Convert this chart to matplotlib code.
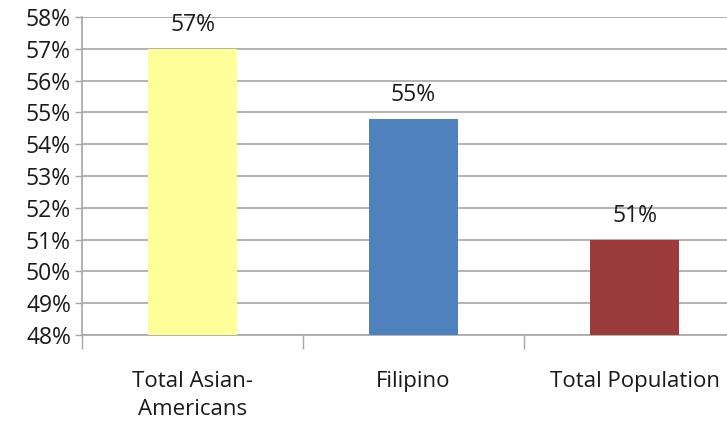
import matplotlib.pyplot as plt
from matplotlib.ticker import MultipleLocator, FixedLocator

categories = ["Total Asian-\nAmericans", "Filipino", "Total Population"]
values = [57.0, 54.8, 51.0]
labels = ["57%", "55%", "51%"]
colors = ["#FFFF99", "#4F81BD", "#9B3B3B"]

plt.rcParams['font.family'] = ['Open Sans', 'DejaVu Sans']

fig = plt.figure(figsize=(7.27, 4.23), dpi=100)
# plot area runs slightly past the right edge of the picture
ax = fig.add_axes([82 / 727, (423 - 335) / 423, 663 / 727, 318 / 423])

x = range(len(categories))
ax.bar(x, [v - 48 for v in values], bottom=48, width=0.4, color=colors, zorder=3)

for i, (v, lab) in enumerate(zip(values, labels)):
    ax.text(i, v + 0.38, lab, ha='center', va='bottom', fontsize=16.5, color='#1a1a1a')

ax.set_ylim(48, 58)
ax.set_xlim(-0.5, 2.5)
ax.yaxis.set_major_locator(MultipleLocator(1))
ax.set_yticklabels([f"{int(t)}%" for t in ax.get_yticks()])
ax.grid(axis='y', color='#A6A6A6', linewidth=1.2, zorder=0)

ax.set_xticks(list(x))
ax.set_xticklabels(categories, fontsize=16, color='#1a1a1a', linespacing=1.45)
ax.xaxis.set_minor_locator(FixedLocator([-0.5, 0.5, 1.5, 2.5]))
ax.tick_params(axis='x', which='major', length=0, pad=26)
ax.tick_params(axis='x', which='minor', length=10, width=1, color='#A6A6A6')
ax.tick_params(axis='y', length=5, width=1, color='#A6A6A6', labelsize=16.5,
               labelcolor='#1a1a1a', pad=3)

for side in ['top', 'right']:
    ax.spines[side].set_visible(False)
for side in ['left', 'bottom']:
    ax.spines[side].set_color('#A6A6A6')
    ax.spines[side].set_linewidth(1.2)

fig.savefig("out.png", dpi=100)
